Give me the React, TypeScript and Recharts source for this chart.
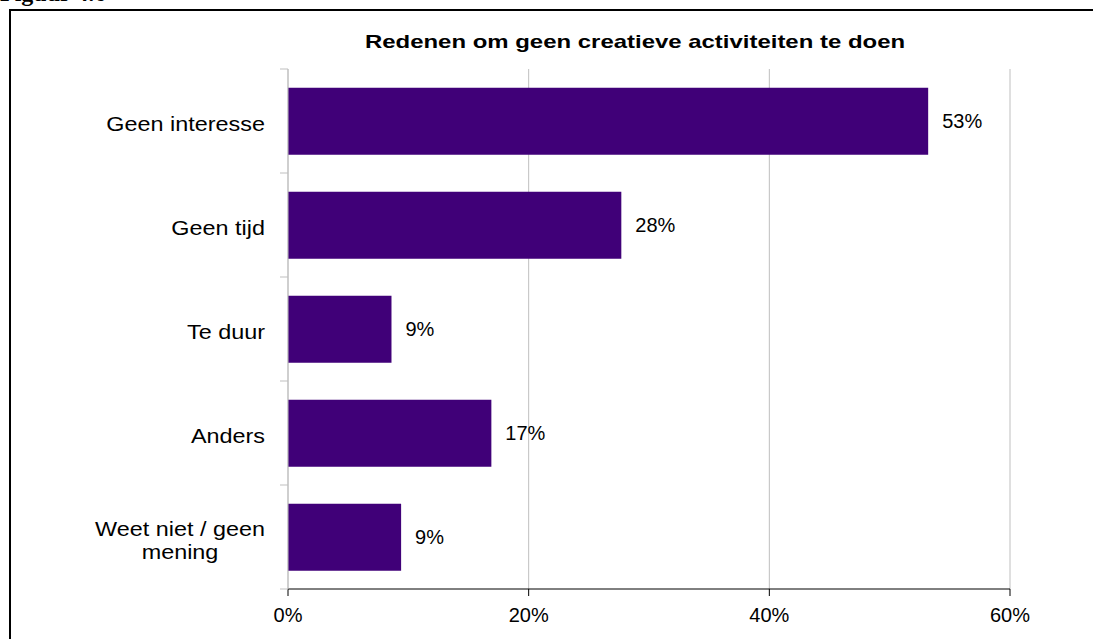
import React from 'react';
import {
  BarChart,
  Bar,
  XAxis,
  YAxis,
  CartesianGrid,
  LabelList
} from 'recharts';

const categories = ['Geen interesse', 'Geen tijd', 'Te duur', 'Anders', 'Weet niet / geen mening'];
const percentages = [53.2, 27.7, 8.6, 16.9, 9.4];
const xTicks = [0, 20, 40, 60];

const data = categories.map((name, i) => ({ name, value: percentages[i] }));

const FONT = "'Liberation Sans', Arial, sans-serif";
const BAR_COLOR = '#400078';
const GRID_COLOR = '#BFBFBF';
const STRETCH = 1.17; // the category labels in the source are a bit wide
const EDGE_TICK = 8;

let ctx: CanvasRenderingContext2D | null = null;
const measure = (text: string, size: number) => {
  if (!ctx) ctx = document.createElement('canvas').getContext('2d');
  if (!ctx) return text.length * size * 0.55;
  ctx.font = `${size}px ${FONT}`;
  return ctx.measureText(text).width;
};

// wrap the label like Excel does, lines centred on each other,
// plus the little grey tick marks between the categories
const CategoryTick = (props: any) => {
  const { x, y, payload, index, visibleTicksCount } = props;
  const size = 20;
  const maxWidth = 160;
  const words = String(payload.value).split(' ');
  const lines: string[] = [];
  let cur = '';
  words.forEach((w) => {
    const test = cur ? cur + ' ' + w : w;
    if (cur && measure(test, size) > maxWidth) {
      lines.push(cur);
      cur = w;
    } else {
      cur = test;
    }
  });
  if (cur) lines.push(cur);
  const blockW = Math.max(...lines.map((l) => measure(l, size))) * STRETCH;
  const right = x - 15;
  const cx = right - blockW / 2;
  const lh = 23;
  const startY = y + 3 - ((lines.length - 1) * lh) / 2;
  const half = payload.offset || 0;
  return (
    <g>
      <line x1={x} x2={x + EDGE_TICK} y1={y - half} y2={y - half} stroke={GRID_COLOR} />
      {index === visibleTicksCount - 1 && (
        <line x1={x} x2={x + EDGE_TICK} y1={y + half} y2={y + half} stroke={GRID_COLOR} />
      )}
      {lines.map((l, i) => (
        <text
          key={i}
          transform={`translate(${cx},${startY + i * lh}) scale(${STRETCH},1)`}
          x={0}
          y={0}
          dy="0.35em"
          textAnchor="middle"
          fontSize={size}
          fontFamily={FONT}
          fill="#000"
        >
          {l}
        </text>
      ))}
    </g>
  );
};

export default function App() {
  return (
    <div style={{ position: 'absolute', left: 0, top: 0, width: 1093, height: 639, overflow: 'hidden', background: '#fff' }}>
      <div
        style={{
          position: 'absolute',
          left: 0,
          top: -19,
          fontFamily: "'Liberation Serif', 'Times New Roman', serif",
          fontWeight: 'bold',
          fontSize: 24,
          lineHeight: '24px'
        }}
      >
        Figuur 4.6
      </div>
      <div
        style={{
          position: 'absolute',
          left: 9,
          top: 9,
          width: 1200,
          height: 700,
          border: '2px solid #000',
          boxSizing: 'border-box'
        }}
      />
      <div
        style={{
          position: 'absolute',
          left: 335,
          width: 600,
          top: 30,
          textAlign: 'center',
          fontFamily: FONT,
          fontWeight: 'bold',
          fontSize: 19,
          lineHeight: '24px',
          transform: 'scaleX(1.26)'
        }}
      >
        Redenen om geen creatieve activiteiten te doen
      </div>
      <div style={{ position: 'absolute', left: 0, top: 0 }}>
        <BarChart
          width={1093}
          height={639}
          data={data}
          layout="vertical"
          margin={{ top: 69, right: 83, bottom: 0, left: 0 }}
          barCategoryGap="18%"
        >
          <CartesianGrid horizontal={false} stroke={GRID_COLOR} />
          <XAxis
            type="number"
            domain={[0, 60]}
            ticks={xTicks}
            tickFormatter={(v) => `${v}%`}
            height={50}
            tickSize={7}
            tickMargin={12}
            axisLine={{ stroke: '#000' }}
            tickLine={{ stroke: '#000' }}
            tick={{ fill: '#000', fontSize: 20, fontFamily: FONT }}
          />
          <XAxis
            xAxisId="top"
            orientation="top"
            type="number"
            domain={[0, 60]}
            height={0}
            tick={false}
            tickLine={false}
            axisLine={{ stroke: GRID_COLOR }}
          />
          <YAxis
            type="category"
            dataKey="name"
            width={288}
            tickSize={EDGE_TICK}
            tickMargin={0}
            axisLine={{ stroke: GRID_COLOR }}
            tickLine={false}
            tick={<CategoryTick />}
            interval={0}
          />
          <Bar dataKey="value" fill={BAR_COLOR} isAnimationActive={false}>
            <LabelList
              dataKey="value"
              position="right"
              offset={14}
              formatter={(v: any) => `${Math.round(Number(v))}%`}
              fill="#000"
              fontSize={20}
              fontFamily={FONT}
            />
          </Bar>
        </BarChart>
      </div>
    </div>
  );
}
